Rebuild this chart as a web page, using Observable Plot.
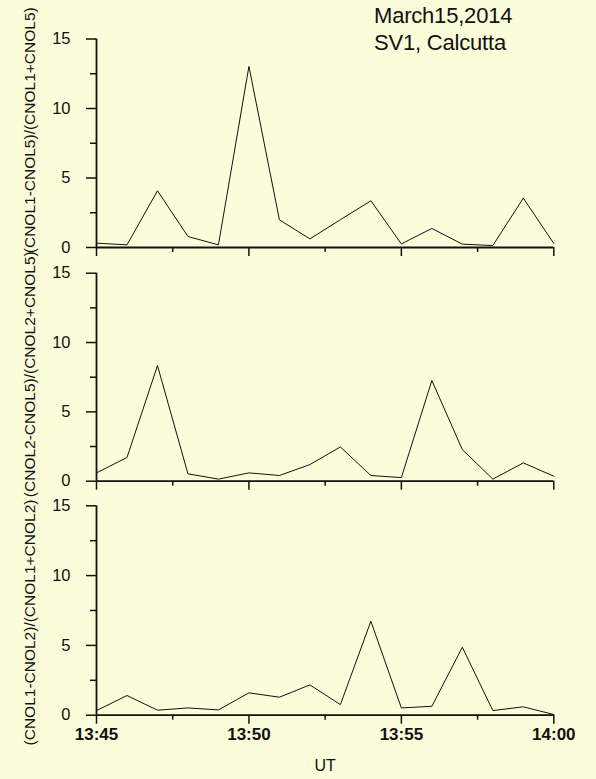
<!DOCTYPE html>
<html>
<head>
<meta charset="utf-8">
<script src="https://cdn.jsdelivr.net/npm/d3@7"></script>
<script src="https://cdn.jsdelivr.net/npm/@observablehq/plot@0.6"></script>
<style>
  html, body { margin: 0; padding: 0; background: #FAFCDA; }
  #chart { position: relative; width: 596px; height: 779px; background: #FAFCDA;
           font-family: "Liberation Sans", Arial, sans-serif; color: #111; }
  #title { position: absolute; left: 374px; top: 2px; font-size: 22px; line-height: 27px;
           letter-spacing: -0.2px; z-index: 1; }
  #chart svg { display: block; overflow: visible; }
</style>
</head>
<body>
<div id="chart"><div id="title"></div></div>
<script>
// One sample per minute, 13:45–14:00 UT
const times = ["13:45", "13:46", "13:47", "13:48", "13:49", "13:50", "13:51", "13:52",
               "13:53", "13:54", "13:55", "13:56", "13:57", "13:58", "13:59", "14:00"];

// Normalised channel differences
const ratio15 = [0.31, 0.19, 4.08, 0.79, 0.19, 13.03, 1.99, 0.62, 2.0, 3.36, 0.26, 1.37, 0.24, 0.14, 3.55, 0.29];
const ratio25 = [0.60, 1.71, 8.34, 0.53, 0.15, 0.60, 0.41, 1.20, 2.47, 0.41, 0.26, 7.26, 2.28, 0.15, 1.32, 0.36];
const ratio12 = [0.33, 1.41, 0.36, 0.52, 0.38, 1.60, 1.29, 2.17, 0.76, 6.73, 0.52, 0.64, 4.87, 0.33, 0.60, 0.05];

const yLabels = ["(CNOL1-CNOL5)/(CNOL1+CNOL5)",
                 "(CNOL2-CNOL5)/(CNOL2+CNOL5)",
                 "(CNOL1-CNOL2)/(CNOL1+CNOL2)"];
const yTicks = [0, 5, 10, 15];
const yMinorTicks = [2.5, 7.5, 12.5];
const xTickLabels = ["13:45", "13:50", "13:55", "14:00"];
const xMinorTickLabels = ["13:47:30", "13:52:30", "13:57:30"];
const xLabel = "UT";
const titleLines = ["March15,2014", "SV1, Calcutta"];

const toTime = s => d3.utcParse("%H:%M:%S")(s.length === 5 ? s + ":00" : s);
const xDomain = [toTime(times[0]), toTime(times[times.length - 1])];
const fmt = d3.utcFormat("%H:%M");

document.getElementById("title").innerHTML = titleLines.join("<br>");

const panels = [
  {values: ratio15, label: yLabels[0], height: 260, marginTop: 38.5, marginBottom: 13, shift: -13, bottom: false},
  {values: ratio25, label: yLabels[1], height: 233, marginTop: 12.7, marginBottom: 12.3, shift: -3, bottom: false},
  {values: ratio12, label: yLabels[2], height: 286, marginTop: 12.3, marginBottom: 64.3, shift: 12, bottom: true}
];

const chart = document.getElementById("chart");
for (const p of panels) {
  const series = times.map((t, i) => ({t: toTime(t), v: p.values[i]}));
  const xMajorOpts = {tickSize: 9, strokeWidth: 1.5, label: null};
  if (p.bottom) Object.assign(xMajorOpts, {tickFormat: fmt, fontWeight: "bold", fontSize: 17, tickPadding: 4});
  else xMajorOpts.text = null;
  const svg = Plot.plot({
    width: 596,
    height: p.height,
    marginLeft: 96,
    marginRight: 42.7,
    marginTop: p.marginTop,
    marginBottom: p.marginBottom,
    style: {background: "transparent", overflow: "visible", color: "#111",
            fontFamily: "'Liberation Sans', Arial, sans-serif", fontSize: "16px"},
    x: {type: "utc", domain: xDomain},
    y: {domain: [0, 15]},
    marks: [
      Plot.axisY(yTicks, {tickSize: 10, tickPadding: 16, strokeWidth: 1.5, label: null, fontSize: 16.5}),
      Plot.axisY(yMinorTicks, {tickSize: 6, strokeWidth: 1.5, text: null, label: null}),
      Plot.axisX(xTickLabels.map(toTime), xMajorOpts),
      Plot.axisX(xMinorTickLabels.map(toTime), {tickSize: 5, strokeWidth: 1.5, text: null, label: null}),
      Plot.ruleX([xDomain[0]], {stroke: "#111", strokeWidth: 1.8}),
      Plot.ruleY([0], {stroke: "#111", strokeWidth: 1.8}),
      Plot.line(series, {x: "t", y: "v", stroke: "#111", strokeWidth: 1}),
      Plot.text([p.label], {frameAnchor: "left", textAnchor: "middle", rotate: -90, dx: -66, dy: p.shift,
                            fontSize: 15.5, fill: "#111"}),
      p.bottom ? Plot.text([xLabel], {frameAnchor: "bottom", lineAnchor: "middle", dy: 51, fontSize: 16, fill: "#111"}) : null
    ]
  });
  chart.appendChild(svg);
}
</script>
</body>
</html>
